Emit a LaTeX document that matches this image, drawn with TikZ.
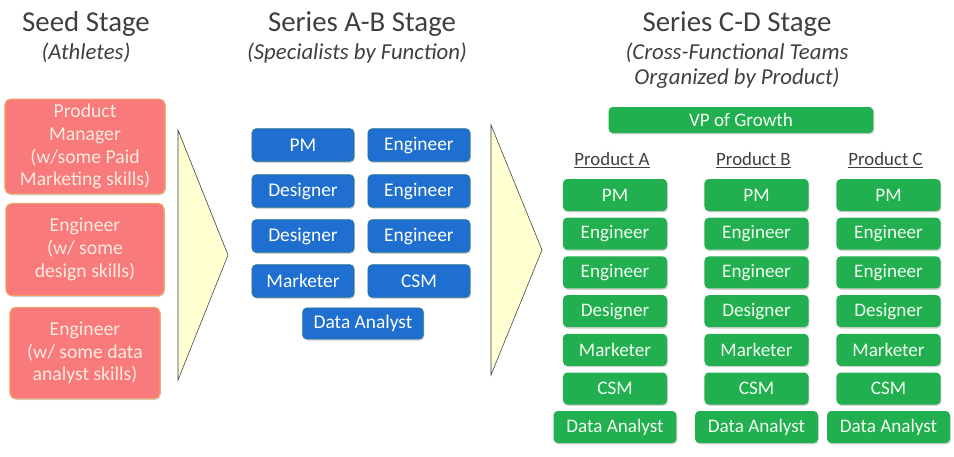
\documentclass[tikz,border=0pt]{standalone}
\usepackage{fontspec}
\setmainfont{Carlito}
\usetikzlibrary{shadows}

\definecolor{titlegray}{HTML}{3F3F3F}
\definecolor{seedred}{HTML}{F87A7A}
\definecolor{seedborder}{HTML}{F2A060}
\definecolor{seedtext}{HTML}{FFEAE2}
\definecolor{abblue}{HTML}{1E6FD0}
\definecolor{abborder}{HTML}{2A7488}
\definecolor{cdgreen}{HTML}{22AF4F}
\definecolor{cdtext}{HTML}{F2FFF2}
\definecolor{arrowyellow}{HTML}{FFFFD2}

\tikzset{
  stagetitle/.style={text=titlegray, font=\fontsize{20.5}{24}\selectfont},
  stagesub/.style={text=titlegray, align=center, font=\fontsize{16.2}{17.8}\selectfont\itshape},
  boxshadow/.style={drop shadow={shadow xshift=0.6pt, shadow yshift=-1pt, opacity=0.35}},
  redbox/.style={boxshadow, fill=seedred, draw=seedborder, thick, rounded corners=4pt,
    text=seedtext, align=center, minimum width=4cm, minimum height=2.3cm,
    font=\fontsize{14}{16.2}\selectfont},
  bluebox/.style={boxshadow, fill=abblue, draw=abborder, rounded corners=3pt,
    text=white, minimum width=2.55cm, minimum height=0.82cm,
    font=\fontsize{13.8}{15}\selectfont},
  greenbox/.style={boxshadow, fill=cdgreen, draw=none, rounded corners=3pt,
    text=cdtext, minimum width=2.6cm, minimum height=0.8cm,
    font=\fontsize{13.6}{15}\selectfont},
  prodlabel/.style={text=titlegray, font=\fontsize{13.4}{15}\selectfont},
  stagearrow/.style={fill=arrowyellow, draw=titlegray, line join=miter}
}

\begin{document}
\begin{tikzpicture}[x=0.025cm, y=-0.025cm]
\useasboundingbox (0,0) rectangle (954,456);

% Seed stage
\node[stagetitle] (seedtitle) at (86,24) {Seed Stage};
\node[stagesub] (seedsub) at (86,53) {(Athletes)};
\node[redbox] (pmath) at (85,146.5) {Product\\Manager\\(w/some Paid\\Marketing skills)};
\node[redbox, minimum width=3.95cm] (engdesign) at (85,249.5) {Engineer\\(w/ some\\design skills)};
\node[redbox, minimum width=3.75cm, minimum height=2.28cm] (engdata) at (85,353) {Engineer\\(w/ some data\\analyst skills)};

% Arrow to Series A-B
\draw[stagearrow] (178,130) -- (228,255) -- (178,380) -- cycle;

% Series A-B stage
\node[stagetitle] (abtitle) at (362,24) {Series A-B Stage};
\node[stagesub] (absub) at (357,53) {(Specialists by Function)};
\node[bluebox] (abpm) at (303,145) {PM};
\node[bluebox] (abeng1) at (419,145) {Engineer};
\node[bluebox] (abdes1) at (303,191) {Designer};
\node[bluebox] (abeng2) at (419,191) {Engineer};
\node[bluebox] (abdes2) at (303,236) {Designer};
\node[bluebox] (abeng3) at (419,236) {Engineer};
\node[bluebox] (abmkt) at (303,281) {Marketer};
\node[bluebox] (abcsm) at (419,281) {CSM};
\node[bluebox, minimum width=3.02cm, minimum height=0.78cm] (abdata) at (363,323.5) {Data Analyst};

% Arrow to Series C-D
\draw[stagearrow] (491,125) -- (542,250) -- (491,375) -- cycle;

% Series C-D stage
\node[stagetitle] (cdtitle) at (737,24) {Series C-D Stage};
\node[stagesub] (cdsub) at (737,66) {(Cross-Functional Teams\\Organized by Product)};
\node[greenbox, minimum width=6.62cm, minimum height=0.65cm] (vpgrowth) at (741,120) {VP of Growth};

\foreach \col/\cx in {A/615,B/756.5,C/888.5} {
  \node[prodlabel] (prod\col) at (\cx-3,160) {\underline{Product \col}};
  \foreach \role [count=\i] in {PM,Engineer,Engineer,Designer,Marketer,CSM} {
    \node[greenbox] (\col\i) at (\cx,{195+38.7*(\i-1)}) {\role};
  }
  \node[greenbox, minimum width=3.07cm] (\col7) at (\cx,427) {Data Analyst};
}
\end{tikzpicture}
\end{document}
